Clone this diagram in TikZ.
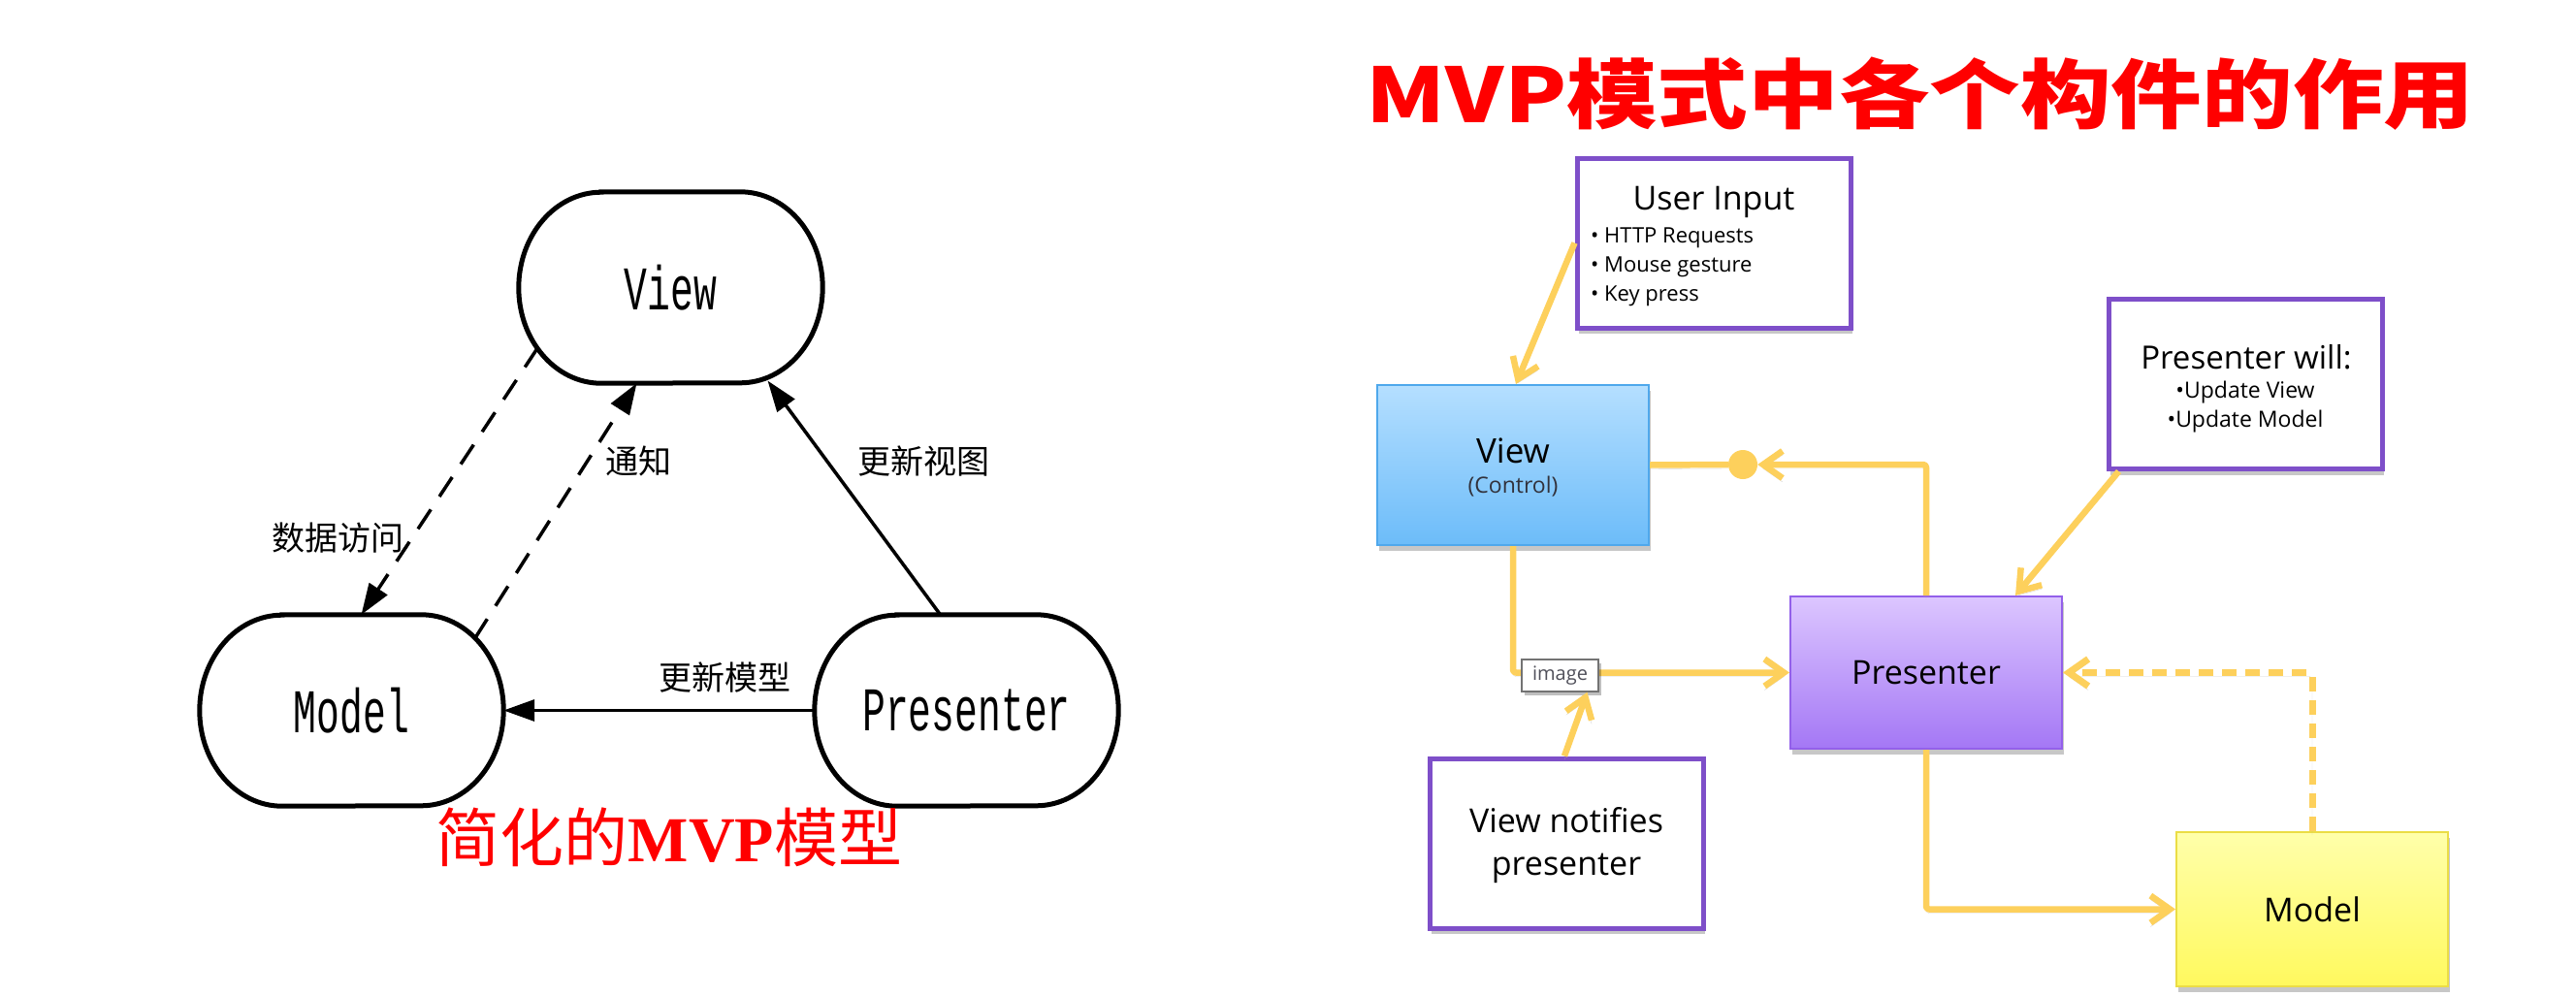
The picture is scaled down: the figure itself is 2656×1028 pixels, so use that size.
\documentclass[tikz,border=0pt]{standalone}
\usepackage{fontspec}
\usetikzlibrary{arrows.meta,calc,shadows}
\setmainfont{Open Sans}
\newfontfamily\monocond{Liberation Mono}[FakeStretch=0.62]
\newfontfamily\cjk{Noto Sans CJK SC}
\newfontfamily\titlefont{Noto Sans CJK SC}[FakeStretch=1.2]
\newfontfamily\lserif{Liberation Serif}
\definecolor{gold}{HTML}{FDD05C}
\definecolor{purpleb}{HTML}{7E4FC9}
\definecolor{vdraw}{HTML}{4FA8EC}
\definecolor{vtop}{HTML}{B5DFFF}
\definecolor{vbot}{HTML}{6CBCF9}
\definecolor{pdraw}{HTML}{9360EA}
\definecolor{ptop}{HTML}{DCC6FF}
\definecolor{pbot}{HTML}{A477F5}
\definecolor{mdraw}{HTML}{EBDD45}
\definecolor{mtop}{HTML}{FFFFAA}
\definecolor{mbot}{HTML}{FFF95E}
\definecolor{ctext}{HTML}{32323C}
\definecolor{imgtext}{HTML}{50505A}
\newcommand{\pilldraw}[1]{\draw[pillline] ([xshift=85pt]#1.north west) -- ([xshift=-85pt]#1.north east)
  arc[start angle=90,end angle=-90,x radius=85pt,y radius=98.5pt] -- ([xshift=85pt]#1.south west)
  arc[start angle=270,end angle=90,x radius=85pt,y radius=98.5pt] -- cycle;}
\begin{document}
\begin{tikzpicture}[x=1pt,y=-1pt,
  pill/.style={draw=none, minimum width=313pt, minimum height=197pt, inner sep=0pt,
    font=\monocond\fontsize{64}{68}\selectfont},
  pillline/.style={line width=5pt, black},
  larrow/.style={line width=3.5pt, -{Triangle[length=32pt,width=22pt]}},
  ldash/.style={larrow, dash pattern=on 24pt off 16pt},
  llabel/.style={font=\cjk\fontsize{34}{36}\selectfont, inner sep=0pt},
  rshadow/.style={drop shadow={shadow xshift=2pt, shadow yshift=-6pt, fill=black, opacity=0.22}},
  wbox/.style={draw=purpleb, line width=5pt, fill=white, minimum width=282pt, minimum height=175pt, inner sep=0pt, rshadow},
  gbox/.style={line width=2pt, minimum width=280pt, minimum height=#1, inner sep=0pt, rshadow,
    font=\fontsize{34}{40}\selectfont},
  rline/.style={draw=gold, line width=6.5pt, line join=round, rounded corners=3pt,
    -{Straight Barb[length=20pt,width=28pt]},
    preaction={draw=black!35, opacity=0.45, transform canvas={yshift=-4pt}}},
  rplain/.style={draw=gold, line width=6.5pt,
    preaction={draw=black!35, opacity=0.45, transform canvas={yshift=-4pt}}},
  rdash/.style={rline, line width=7pt, dash pattern=on 15pt off 9pt},
  rtext/.style={inner sep=0pt, font=\fontsize{#1}{#1}\selectfont},
]
\fill[white] (0,0) rectangle (2656,1028);
\useasboundingbox (0,0) rectangle (2656,1028);

% ---------------- left diagram ----------------
\node[pill] (V) at (691.5,296.5) {View};
\node[pill] (M) at (362.5,732.5) {Model};
\node[pill] (P) at (996.5,732.5) {Presenter};
\pilldraw{V}
\pilldraw{M}
\pilldraw{P}

\draw[ldash] ($(V.center)+(-137,62)$) -- ($(M.north)+(10,0)$);
\draw[ldash] ($(M.center)+(127,-74)$) -- ($(V.south)+(-35,0)$);
\draw[larrow] ($(P.north)+(-27,0)$) -- ($(V.center)+(100,96)$);
\draw[larrow] (P.west) -- (M.east);

\node[llabel] (l1) at (348,555) {数据访问};
\node[llabel] (l2) at (658,476) {通知};
\node[llabel] (l3) at (952,476) {更新视图};
\node[llabel] (l4) at (747,699) {更新模型};

\node[text=red, inner sep=0pt] (t1) at (690,863)
  {\fontsize{66}{70}\selectfont{\cjk 简化的}{\lserif\bfseries MVP}{\cjk 模型}};

% ---------------- right diagram ----------------
\node[text=red, inner sep=0pt] (t2) at (1980,97)
  {\titlefont\bfseries\fontsize{78}{80}\selectfont MVP模式中各个构件的作用};

\node[wbox] (UI) at (1767,250.5) {};
\node[wbox] (PW) at (2315,396) {};
\node[wbox] (VN) at (1615,869.5) {};

\node[gbox=165pt, draw=vdraw, top color=vtop, bottom color=vbot] (V2) at (1560,479.5) {};
\node[gbox=157pt, draw=pdraw, top color=ptop, bottom color=pbot] (P2) at (1986,693.5) {Presenter};
\node[gbox=159pt, draw=mdraw, top color=mtop, bottom color=mbot] (M2) at (2384,937.5) {Model};

% texts
\node[rtext=34] (uit) at (1767,208) {User Input};
\node[rtext=22, anchor=west] (ui1) at (1640,245) {• HTTP Requests};
\node[rtext=22, anchor=west] (ui2) at (1640,275) {• Mouse gesture};
\node[rtext=22, anchor=west] (ui3) at (1640,305) {• Key press};
\node[rtext=33] (pwt) at (2316,368) {Presenter will:};
\node[rtext=23] (pw1) at (2315,405) {•Update View};
\node[rtext=23] (pw2) at (2315,435) {•Update Model};
\node[rtext=35] (vt) at (1560,465) {View};
\node[rtext=23, text=ctext] (vc) at (1560,502) {(Control)};
\node[inner sep=0pt, align=center, font=\fontsize{34}{44}\selectfont] (vnt) at (1615,872) {View notifies\\presenter};

% dot on the View <- Presenter connector
\node[circle, fill=gold, minimum size=30pt, inner sep=0pt] (dot) at (1797,479) {};

% connectors
\draw[rline] (UI.west) -- ($(V2.north)+(3,0)$);
\draw[rline] ($(PW.south west)+(13,0)$) -- ($(P2.north)+(92,0)$);
\draw[rline] (P2.north) |- (dot.east);
\draw[rplain] (dot.west) -- (V2.east);
\draw[rline] (V2.south) |- (P2.west);
\draw[rline] (P2.south) |- (M2.west);
\draw[rdash] (M2.north) |- (P2.east);

\node[draw=black!55, line width=1.5pt, fill=white, minimum width=79pt, minimum height=33pt, inner sep=0pt,
  text=imgtext, font=\fontsize{20}{20}\selectfont,
  drop shadow={shadow xshift=3pt, shadow yshift=-4pt, fill=black, opacity=0.25}] (img) at (1608.5,696.5) {image};
\draw[rline] ($(VN.north)+(-2,0)$) -- ($(img.south)+(28,0)$);
\end{tikzpicture}
\end{document}
